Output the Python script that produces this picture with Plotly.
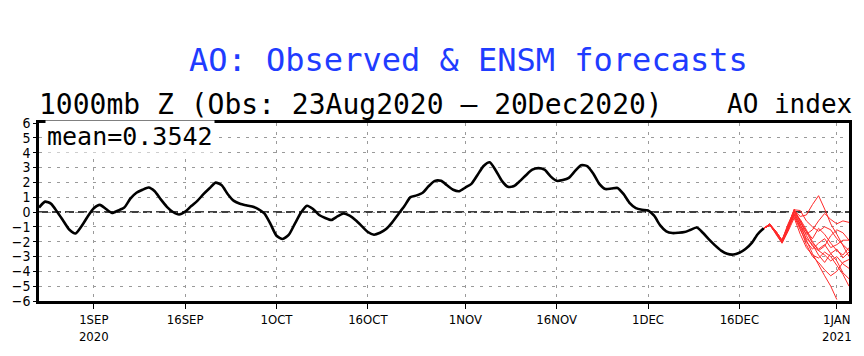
import datetime as dt
import plotly.graph_objects as go

# ---------------- data ----------------
obs_start = "2020-08-23"
obs_values = [
    0.30, 0.70, 0.55, 0.00, -0.60, -1.20, -1.45, -0.95, -0.30, 0.25,
    0.48, 0.20, -0.06, 0.10, 0.30, 0.90, 1.30, 1.50, 1.65, 1.40,
    0.85, 0.35, 0.00, -0.17, 0.02, 0.40, 0.75, 1.20, 1.60, 1.98,
    1.80, 1.20, 0.75, 0.55, 0.45, 0.37, 0.20, -0.10, -0.80, -1.60,
    -1.82, -1.55, -0.80, -0.05, 0.42, 0.20, -0.20, -0.40, -0.54, -0.30,
    -0.10, -0.25, -0.55, -0.95, -1.35, -1.53, -1.40, -1.15, -0.70, -0.15,
    0.40, 1.00, 1.12, 1.30, 1.75, 2.10, 2.10, 1.80, 1.50, 1.40,
    1.65, 1.90, 2.50, 3.10, 3.35, 2.80, 2.10, 1.70, 1.75, 2.10,
    2.50, 2.85, 2.96, 2.85, 2.40, 2.10, 2.15, 2.30, 2.75, 3.15,
    3.10, 2.60, 1.90, 1.55, 1.58, 1.62, 1.20, 0.60, 0.26, 0.15,
    0.10, -0.25, -0.90, -1.30, -1.42, -1.40, -1.35, -1.20, -1.05, -1.40,
    -1.85, -2.25, -2.60, -2.82, -2.87, -2.75, -2.50, -2.10, -1.50, -1.10,
]

fc_start = "2020-12-20"
fc_members = [
    [-1.1, -0.85, -1.4, -2.0, -1.0, 0.2, -0.6, -1.6, -2.3, -2.6, -2.9, -3.3, -3.0, -3.5, -3.8],
    [-1.1, -0.9, -1.3, -1.9, -0.8, 0.1, -0.3, -0.2, 0.5, 1.1, 0.2, -0.8, -1.5, -2.3, -3.0],
    [-1.1, -0.8, -1.5, -2.1, -1.2, -0.1, -0.8, -1.9, -2.8, -3.6, -4.3, -5.0, -5.9],
    [-1.1, -0.9, -1.4, -2.0, -0.9, 0.0, -0.9, -1.5, -1.2, -0.6, -0.1, -0.5, -0.8, -0.6, -0.7],
    [-1.1, -0.85, -1.35, -1.95, -1.1, -0.3, -1.2, -2.0, -2.5, -2.1, -1.8, -2.4, -2.2, -1.9, -1.9],
    [-1.1, -0.9, -1.4, -2.1, -1.3, -0.4, -1.5, -2.4, -2.9, -3.1, -2.7, -3.0, -3.6, -4.2, -5.0],
    [-1.1, -0.8, -1.3, -1.9, -1.0, 0.1, -0.7, -1.3, -1.8, -1.1, -1.5, -2.1, -2.6, -2.9, -2.4],
    [-1.1, -0.85, -1.4, -2.0, -1.1, -0.2, -1.0, -1.8, -2.2, -2.9, -3.4, -2.8, -2.5, -3.1, -2.7],
    [-1.1, -0.9, -1.45, -2.05, -1.2, 0.0, -0.5, -1.2, -2.0, -2.6, -2.3, -1.6, -1.2, -1.4, -1.9],
    [-1.1, -0.85, -1.3, -1.9, -0.9, 0.15, 0.1, -0.6, -1.0, -1.3, -1.0, -1.2, -1.8, -2.2, -2.6],
    [-1.1, -0.9, -1.4, -2.0, -1.15, -0.15, -1.1, -2.2, -3.0, -3.4, -3.9, -4.3, -4.0, -3.4, -3.2],
    [-1.1, -0.8, -1.35, -2.0, -1.05, 0.05, -0.6, -1.4, -2.1, -2.5, -2.2, -2.8, -3.3, -4.1, -4.5],
]

tick_dates = ["2020-09-01", "2020-09-16", "2020-10-01", "2020-10-16", "2020-11-01",
              "2020-11-16", "2020-12-01", "2020-12-16", "2021-01-01"]
tick_labels = ["1SEP<br>2020", "16SEP", "1OCT", "16OCT", "1NOV", "16NOV", "1DEC", "16DEC", "1JAN<br>2021"]
y_ticks = list(range(-6, 7))
y_tick_labels = [("\u2212" + str(-v)) if v < 0 else str(v) for v in y_ticks]

title_text = "AO: Observed &amp; ENSM forecasts"
subtitle_left = "1000mb Z (Obs: 23Aug2020 \u2013 20Dec2020)"
subtitle_right = "AO index"
mean_text = "mean=0.3542"
x_range = ["2020-08-23", "2021-01-03"]


def dates_from(start, n):
    d0 = dt.date.fromisoformat(start)
    return [d0 + dt.timedelta(days=i) for i in range(n)]


fig = go.Figure()

for m in fc_members:
    fig.add_trace(go.Scatter(x=dates_from(fc_start, len(m)), y=m, mode="lines",
                             line=dict(color="#ff2a2a", width=1), showlegend=False,
                             hoverinfo="skip"))

fig.add_trace(go.Scatter(x=dates_from(obs_start, len(obs_values)), y=obs_values, mode="lines",
                         line=dict(color="black", width=2.6, shape="spline", smoothing=0.6),
                         showlegend=False))

fig.add_shape(type="line", xref="paper", x0=0, x1=1, yref="y", y0=0, y1=0,
              line=dict(color="black", width=1.5, dash="9px,4px"), layer="between")

mono = "DejaVu Sans Mono"
narrow = "Liberation Sans Narrow, DejaVu Sans Condensed, Arial Narrow, sans-serif"
grid_dash = "3px,6px"

fig.update_layout(
    width=864, height=356,
    margin=dict(l=35, r=12, t=123, b=48),
    paper_bgcolor="white", plot_bgcolor="white",
    xaxis=dict(
        type="date", range=x_range,
        tickvals=tick_dates, ticktext=tick_labels,
        tickfont=dict(family=narrow, size=13, color="black"),
        showgrid=True, gridcolor="#9a9a9a", griddash=grid_dash, gridwidth=1,
        showline=True, linecolor="black", linewidth=2.5, mirror=True,
        ticks="outside", ticklen=5, tickcolor="black",
        zeroline=False,
    ),
    yaxis=dict(
        range=[-6, 6], tickvals=y_ticks, ticktext=y_tick_labels,
        tickfont=dict(family=narrow, size=14, color="black"),
        showgrid=True, gridcolor="#9a9a9a", griddash=grid_dash, gridwidth=1,
        showline=True, linecolor="black", linewidth=2.5, mirror=True,
        ticks="outside", ticklen=3, tickcolor="black",
        zeroline=False,
    ),
    annotations=[
        dict(text=title_text, xref="paper", yref="paper", x=0.53, y=1.0, yshift=63,
             xanchor="center", yanchor="middle", showarrow=False,
             font=dict(family=mono, size=32, color="#1f3cff")),
        dict(text=subtitle_left, xref="paper", yref="paper", x=0, y=1.0, xshift=-2, yshift=19,
             xanchor="left", yanchor="middle", showarrow=False,
             font=dict(family=mono, size=28, color="black")),
        dict(text=subtitle_right, xref="paper", yref="paper", x=1, y=1.0, xshift=5, yshift=19,
             xanchor="right", yanchor="middle", showarrow=False,
             font=dict(family=mono, size=26, color="black")),
        dict(text=mean_text, xref="paper", yref="paper", x=0, y=1.0, xshift=6, yshift=-13,
             xanchor="left", yanchor="middle", showarrow=False, bgcolor="white",
             font=dict(family=mono, size=25, color="black")),
    ],
)

fig.write_html("out.html", config={"displayModeBar": False},
               post_script="document.body.style.margin='0px';")
